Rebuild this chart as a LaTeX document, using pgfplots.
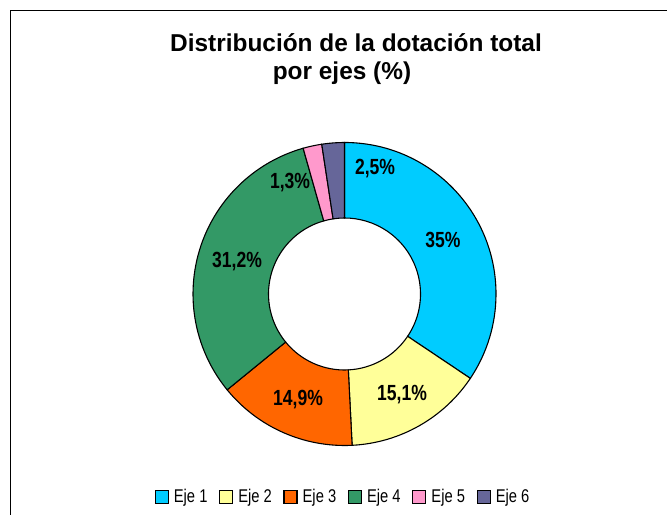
\documentclass[border=0pt]{standalone}
\usepackage{pgfplots}
\pgfplotsset{compat=1.18}
\usepackage{pgfplotstable}
\usepackage{fontspec}
\setmainfont{Liberation Sans}
\newfontfamily\narrow[FakeStretch=0.8]{Liberation Sans}
\definecolor{c0}{HTML}{00CCFF}
\definecolor{c1}{HTML}{FFFF99}
\definecolor{c2}{HTML}{FF6600}
\definecolor{c3}{HTML}{339966}
\definecolor{c4}{HTML}{FF99CC}
\definecolor{c5}{HTML}{666699}

% slice share (% of circle, as drawn), label text, label position (x, y in picture units)
\pgfplotstableread{
eje value lab lx ly
1 34.4 35   443 275
2 14.8 15,1 402 120
3 14.9 14,9 298 115
4 31.5 31,2 237 253
5 2.0  1,3  290 332
6 2.4  2,5  375 346
}\datatable

\begin{document}
\begin{tikzpicture}
\useasboundingbox (0,0) rectangle (667bp,515bp);
\begin{axis}[
  scale only axis, width=667bp, height=515bp,
  xmin=0, xmax=667, ymin=0, ymax=515,
  hide axis, clip=false,
  legend columns=6,
  legend style={at={(axis cs:343,18)}, anchor=center, draw=none, fill=none,
    font=\narrow\fontsize{18.5}{18.5}\selectfont,
    /tikz/every even column/.append style={column sep=9.5bp},
    /tikz/every odd column/.append style={column sep=3bp}},
  legend image code/.code={\draw[line width=1.3bp,#1] (0bp,-6.5bp) rectangle (13bp,6.5bp);},
]
\pgfplotstablegetrowsof{\datatable}
\pgfmathtruncatemacro{\N}{\pgfplotsretval-1}
\def\cum{0}
\pgfplotsforeachungrouped \i in {0,...,\N}{%
  \pgfplotstablegetelem{\i}{value}\of\datatable \let\v\pgfplotsretval
  \pgfplotstablegetelem{\i}{lab}\of\datatable \let\lab\pgfplotsretval
  \pgfplotstablegetelem{\i}{lx}\of\datatable \let\lx\pgfplotsretval
  \pgfplotstablegetelem{\i}{ly}\of\datatable \let\ly\pgfplotsretval
  \pgfmathsetmacro{\a}{90-3.6*\cum}
  \pgfmathsetmacro{\b}{90-3.6*(\cum+\v)}
  \edef\temp{\noexpand\filldraw[fill=c\i, draw=black, line width=1.1bp, shift={(axis cs:344.5,221)}]
    (\a:76bp) -- (\a:151.5bp) arc[start angle=\a, end angle=\b, radius=151.5bp]
    -- (\b:76bp) arc[start angle=\b, end angle=\a, radius=76bp] -- cycle;
    \noexpand\node[font=\noexpand\narrow\noexpand\bfseries\noexpand\fontsize{22}{22}\noexpand\selectfont]
    at (axis cs:\lx,\ly) {\lab\noexpand\%};}%
  \temp
  \pgfmathsetmacro{\cum}{\cum+\v}
}
\addlegendimage{fill=c0, draw=black}\addlegendentry{Eje 1}
\addlegendimage{fill=c1, draw=black}\addlegendentry{Eje 2}
\addlegendimage{fill=c2, draw=black}\addlegendentry{Eje 3}
\addlegendimage{fill=c3, draw=black}\addlegendentry{Eje 4}
\addlegendimage{fill=c4, draw=black}\addlegendentry{Eje 5}
\addlegendimage{fill=c5, draw=black}\addlegendentry{Eje 6}
\node[anchor=base, font=\bfseries\fontsize{24.5}{24.5}\selectfont] at (axis cs:356,463) {Distribución de la dotación total};
\node[anchor=base, font=\bfseries\fontsize{24.5}{24.5}\selectfont] at (axis cs:342,435) {por ejes (\%)};
\draw[line width=1.3bp, draw=black] (axis cs:10.5,-20) -- (axis cs:10.5,504.5) -- (axis cs:690,504.5);
\end{axis}
\end{tikzpicture}
\end{document}
